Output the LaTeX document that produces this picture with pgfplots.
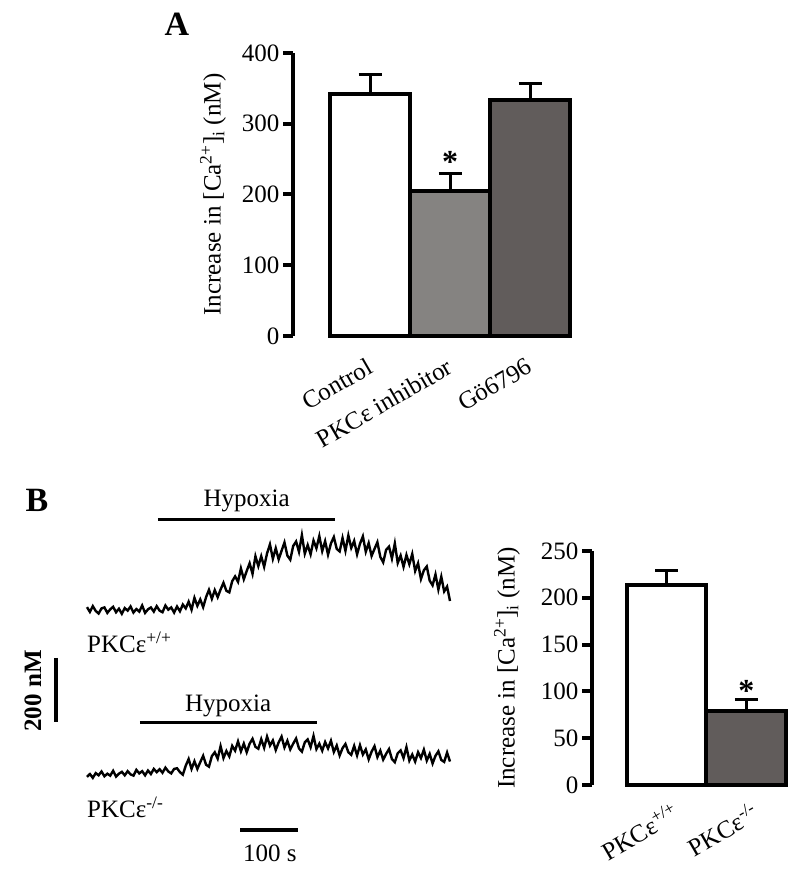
\documentclass[border=0pt]{standalone}
\usepackage{fontspec}
\setmainfont{Liberation Serif}
\usepackage{pgfplots}
\pgfplotsset{compat=1.18}
\definecolor{midgray}{HTML}{858381}
\definecolor{dkgray}{HTML}{615C5B}
\newcommand{\fs}{\fontsize{25}{30}\selectfont}
\pgfplotsset{
  barax/.style={
    scale only axis, anchor=south west,
    axis y line*=left, axis x line*=bottom,
    x axis line style={draw=none}, xtick style={draw=none},
    y axis line style={line width=4pt},
    ytick style={line width=4pt, black},
    tick align=outside, major tick length=10pt,
    ymin=0, tick label style={font=\fs}, label style={font=\fs},
    /pgf/number format/assume math mode=true,
    xticklabel style={rotate=30, anchor=north east, xshift=-6pt, yshift=-4pt},
    bar width=1, clip=false,
  },
  bst/.style={ybar, bar shift=0pt, draw=black, line width=4pt,
    error bars/y dir=plus, error bars/y explicit,
    error bars/error bar style={line width=3pt, black},
    error bars/error mark options={rotate=90, mark size=11.5pt, line width=3pt, black}},
  trax/.style={scale only axis, anchor=south west, hide axis, clip=false,
    width=363pt, xmin=0, xmax=625},
}
\begin{document}
\begin{tikzpicture}
\useasboundingbox (0,0) rectangle (799pt,873pt);
\node[font=\fontsize{34}{36}\selectfont\bfseries] at (177pt,849pt) {A};
\node[font=\fontsize{34}{36}\selectfont\bfseries] at (37pt,373pt) {B};

% Panel A
\begin{axis}[barax, at={(293pt,537pt)}, width=277pt, height=283pt,
  xmin=-0.9625, xmax=2.5, ymax=400, ytick={0,100,...,400},
  xtick={0,1,2}, xticklabels={Control,PKCε inhibitor,Gö6796},
  ylabel={Increase in [Ca\textsuperscript{2+}]\textsubscript{i} (nM)},
  ylabel style={at={(axis description cs:-0.289,0.5)}, anchor=center}]
\addplot[bst, fill=white] coordinates {(0,342) +- (0,28)};
\addplot[bst, fill=midgray] coordinates {(1,205) +- (0,25)};
\addplot[bst, fill=dkgray] coordinates {(2,334) +- (0,23)};
\node[font=\fontsize{32}{34}\selectfont\bfseries] at (axis cs:1,246) {*};
\end{axis}

% Panel B bars
\begin{axis}[barax, at={(592pt,88pt)}, width=194pt, height=234pt,
  xmin=-0.94, xmax=1.5, ymax=250, ytick={0,50,...,250},
  xtick={0,1}, xticklabels={PKCε\textsuperscript{+/+},PKCε\textsuperscript{-/-}},
  xticklabel style={xshift=10pt},
  ylabel={Increase in [Ca\textsuperscript{2+}]\textsubscript{i} (nM)},
  ylabel style={at={(axis description cs:-0.438,0.5)}, anchor=center}]
\addplot[bst, fill=white] coordinates {(0,214) +- (0,15)};
\addplot[bst, fill=dkgray] coordinates {(1,79) +- (0,12)};
\node[font=\fontsize{32}{34}\selectfont\bfseries] at (axis cs:1,100) {*};
\end{axis}

% Trace 1 (PKCe +/+)
\begin{axis}[trax, at={(87pt,247pt)}, height=96pt, ymin=-50, ymax=250]
\addplot[black, line width=2.4pt] table {
0 9
5 -6
10 12
15 -3
20 -11
25 5
30 8
35 -9
40 2
45 10
50 -7
55 4
60 -12
65 6
70 -2
75 11
80 -8
85 3
90 -5
95 14
100 -9
105 2
110 8
115 -5
120 12
125 -2
130 -7
135 14
140 1
145 8
150 -8
155 11
160 -4
165 17
170 5
175 26
180 1
185 38
190 13
195 33
200 9
205 40
210 63
215 35
220 62
225 40
230 64
235 85
240 60
245 55
250 90
255 105
260 88
265 130
270 96
275 122
280 146
285 113
290 168
295 137
300 168
305 135
310 177
315 205
320 160
325 193
330 158
335 185
340 211
345 170
350 157
355 200
360 214
365 182
370 234
375 176
380 203
385 174
390 217
395 193
400 231
405 184
410 215
415 173
420 208
425 228
430 191
435 183
440 225
445 185
450 233
455 194
460 216
465 174
470 207
475 230
480 182
485 209
490 169
495 191
500 212
505 166
510 149
515 188
520 198
525 161
530 208
535 147
540 170
545 135
550 172
555 143
560 175
565 122
570 146
575 97
580 124
585 136
590 92
595 77
600 111
605 64
610 104
615 58
620 73
625 28
};
\addplot[black, line width=3pt] coordinates {(122,284) (427,284)};
\node[font=\fs, anchor=base] at (axis cs:275,322) {Hypoxia};
\node[font=\fs, anchor=base west, inner sep=0pt] at (axis cs:0,-134) {PKCε\textsuperscript{+/+}};
\addplot[black, line width=4pt] coordinates {(-53.4,-150) (-53.4,-350)};
\node[font=\fs\bfseries, rotate=90] at (axis cs:-93,-253) {200 nM};
\end{axis}

% Trace 2 (PKCe -/-)
\begin{axis}[trax, at={(87pt,82pt)}, height=64pt, ymin=-50, ymax=150]
\addplot[black, line width=2.4pt] table {
0 -6
5 3
10 -9
15 6
20 -1
25 11
30 -4
35 4
40 -2
45 13
50 -5
55 4
60 10
65 -1
70 12
75 2
80 -2
85 16
90 5
95 12
100 -1
105 14
110 3
115 19
120 9
125 18
130 7
135 23
140 11
145 5
150 19
155 21
160 9
165 1
170 29
175 50
180 19
185 43
190 19
195 40
200 60
205 32
210 26
215 59
220 71
225 51
230 90
235 53
240 75
245 58
250 91
255 76
260 105
265 74
270 98
275 71
280 98
285 113
290 88
295 82
300 112
305 85
310 120
315 92
320 108
325 78
330 102
335 120
340 86
345 107
350 80
355 98
360 114
365 83
370 73
375 102
380 111
385 87
390 122
395 81
400 98
405 76
410 103
415 83
420 107
425 72
430 92
435 61
440 84
445 97
450 71
455 63
460 91
465 61
470 93
475 64
480 80
485 49
490 73
495 90
500 56
505 76
510 48
515 66
520 81
525 50
530 40
535 68
540 77
545 53
550 87
555 45
560 64
565 42
570 71
575 53
580 79
585 45
590 66
595 36
600 60
605 74
610 47
615 41
620 70
625 42
};
\addplot[black, line width=3pt] coordinates {(91,162.5) (396,162.5)};
\node[font=\fs, anchor=base] at (axis cs:243,197) {Hypoxia};
\node[font=\fs, anchor=base west, inner sep=0pt] at (axis cs:0,-134) {PKCε\textsuperscript{-/-}};
\addplot[black, line width=3.5pt] coordinates {(264,-172) (364,-172)};
\node[font=\fs, anchor=base] at (axis cs:315,-269) {100 s};
\end{axis}
\end{tikzpicture}
\end{document}
